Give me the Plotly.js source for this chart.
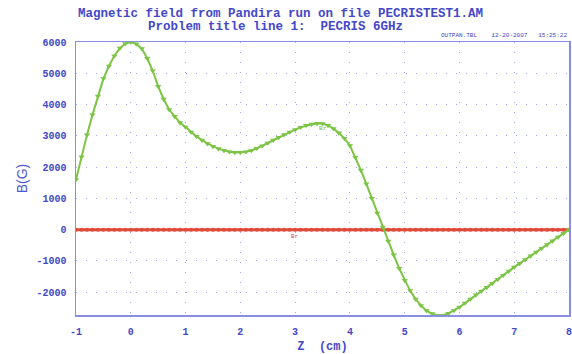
<!DOCTYPE html>
<html>
<head>
<meta charset="utf-8">
<script src="https://cdn.plot.ly/plotly-3.0.1.min.js"></script>
<style>html,body{margin:0;padding:0;background:#fff;}#chart{width:572px;height:354px;}</style>
</head>
<body>
<div id="chart"></div>
<script>
// Z positions along the axis (cm)
const zPos = [
  -1.0,-0.9,-0.8,-0.7,-0.6,-0.5,-0.4,-0.3,-0.2,-0.1,
   0.0, 0.1, 0.2, 0.3, 0.4, 0.5, 0.6, 0.7, 0.8, 0.9,
   1.0, 1.1, 1.2, 1.3, 1.4, 1.5, 1.6, 1.7, 1.8, 1.9,
   2.0, 2.1, 2.2, 2.3, 2.4, 2.5, 2.6, 2.7, 2.8, 2.9,
   3.0, 3.1, 3.2, 3.3, 3.4, 3.5, 3.6, 3.7, 3.8, 3.9,
   4.0, 4.1, 4.2, 4.3, 4.4, 4.5, 4.6, 4.7, 4.8, 4.9,
   5.0, 5.1, 5.2, 5.3, 5.4, 5.5, 5.6, 5.7, 5.8, 5.9,
   6.0, 6.1, 6.2, 6.3, 6.4, 6.5, 6.6, 6.7, 6.8, 6.9,
   7.0, 7.1, 7.2, 7.3, 7.4, 7.5, 7.6, 7.7, 7.8, 7.9,
   8.0
];
// Axial field Bz (G)
const bz = [
  1600, 2330, 3030, 3670, 4270, 4830, 5230, 5560, 5800, 5950,
  6000, 5940, 5790, 5480, 5080, 4580, 4170, 3840, 3620, 3420,
  3280, 3120, 2980, 2860, 2750, 2660, 2590, 2530, 2490, 2470,
  2470, 2490, 2530, 2600, 2680, 2770, 2860, 2950, 3040, 3120,
  3200, 3270, 3330, 3370, 3395, 3390, 3330, 3230, 3090, 2920,
  2690, 2310, 1900, 1460, 1000,  530,   80, -370, -810,-1240,
 -1620,-1950,-2220,-2430,-2590,-2690,-2740,-2740,-2680,-2590,
 -2480,-2350,-2220,-2090,-1970,-1850,-1720,-1590,-1460,-1330,
 -1200,-1080, -960, -840, -720, -600, -480, -360, -240, -120,
     0
];
// Radial field Br (G) on axis
const br = [
  0,0,0,0,0,0,0,0,0,0,
  0,0,0,0,0,0,0,0,0,0,
  0,0,0,0,0,0,0,0,0,0,
  0,0,0,0,0,0,0,0,0,0,
  0,0,0,0,0,0,0,0,0,0,
  0,0,0,0,0,0,0,0,0,0,
  0,0,0,0,0,0,0,0,0,0,
  0,0,0,0,0,0,0,0,0,0,
  0,0,0,0,0,0,0,0,0,0,
  0
];
const xTicks = [-1,0,1,2,3,4,5,6,7,8];
const yTicks = [-2000,-1000,0,1000,2000,3000,4000,5000,6000];
const titleLines = ['Magnetic field from Pandira run on file PECRISTEST1.AM','Problem title line 1:  PECRIS 6GHz'];
const stampText = 'OUTPAN.TBL    12-20-2007   15:25:22';

const blue = '#4448c8';
const axisBlue = '#8a8ee0';
const gridBlue = '#a4a8ec';
const mono = 'Liberation Mono, DejaVu Sans Mono, monospace';

const traces = [
  {x: zPos, y: br, mode: 'lines+markers', name: 'Br',
   line: {color: '#e04a3a', width: 3},
   marker: {symbol: 'circle', size: 4, color: '#e04a3a'}},
  {x: zPos, y: bz, mode: 'lines+markers', name: 'Bz',
   line: {color: '#7cc444', width: 2},
   marker: {symbol: 'triangle-down', size: 5.5, color: '#7cc444'}}
];

const axisCommon = {
  showline: true, mirror: true, linecolor: axisBlue, linewidth: 1.5,
  showgrid: true, gridcolor: gridBlue, gridwidth: 1, griddash: '1px,9px',
  zeroline: false, ticks: '', ticklabelstandoff: 6,
  tickfont: {family: mono, size: 10, color: blue, weight: 'bold'}
};

const layout = {
  width: 572, height: 354,
  margin: {l: 76, r: 3, t: 42, b: 39},
  paper_bgcolor: '#fff', plot_bgcolor: '#fff',
  showlegend: false,
  xaxis: Object.assign({}, axisCommon, {
    range: [-1.0005, 8.0005], tickvals: xTicks, ticktext: xTicks.map(String),
    title: {text: 'Z  (cm)', standoff: 8, font: {family: mono, size: 12, color: blue, weight: 'bold'}}
  }),
  yaxis: Object.assign({}, axisCommon, {
    range: [-2730, 6000], tickvals: yTicks, ticktext: yTicks.map(String),
    title: {text: 'B(G)', standoff: 5, font: {family: 'Liberation Sans, Arial, sans-serif', size: 14, color: '#5058d0'}}
  }),
  annotations: [
    {x: 0.414, y: 1.1026, xref: 'paper', yref: 'paper', xanchor: 'center', yanchor: 'middle',
     text: titleLines[0], showarrow: false,
     font: {family: mono, size: 12.5, color: blue, weight: 'bold'}},
    {x: 0.404, y: 1.055, xref: 'paper', yref: 'paper', xanchor: 'center', yanchor: 'middle',
     text: titleLines[1], showarrow: false,
     font: {family: mono, size: 12.5, color: blue, weight: 'bold'}},
    {x: 3.5, y: 3230, xref: 'x', yref: 'y', text: 'Bz', showarrow: false,
     font: {family: mono, size: 6, color: '#7cc444'}},
    {x: 3.0, y: -230, xref: 'x', yref: 'y', text: 'Br', showarrow: false,
     font: {family: mono, size: 6, color: '#e04a3a'}},
    {x: 1, y: 1, xref: 'paper', yref: 'paper', xanchor: 'right', yanchor: 'bottom', yshift: 1,
     text: stampText, showarrow: false, font: {family: mono, size: 6, color: blue}}
  ]
};

Plotly.newPlot('chart', traces, layout, {displayModeBar: false, staticPlot: true});
</script>
</body>
</html>
